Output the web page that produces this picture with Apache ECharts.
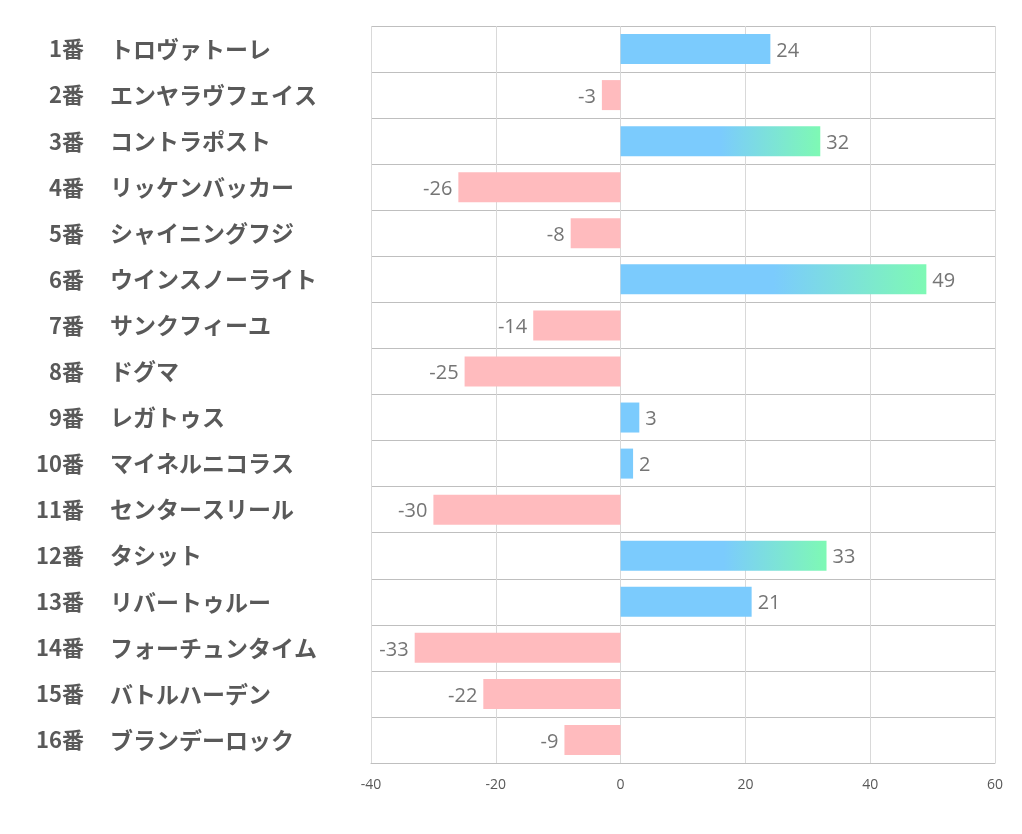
<!DOCTYPE html>
<html><head><meta charset="utf-8">
<script src="https://cdn.jsdelivr.net/npm/echarts@6/dist/echarts.min.js"></script>
<style>html,body{margin:0;padding:0;background:#fff}#c{width:1022px;height:834px}</style>
</head><body><div id="c"></div>
<script>
const numbers = ['1番','2番','3番','4番','5番','6番','7番','8番','9番','10番','11番','12番','13番','14番','15番','16番'];
const names = ['トロヴァトーレ','エンヤラヴフェイス','コントラポスト','リッケンバッカー','シャイニングフジ','ウインスノーライト','サンクフィーユ','ドグマ','レガトゥス','マイネルニコラス','センタースリール','タシット','リバートゥルー','フォーチュンタイム','バトルハーデン','ブランデーロック'];
const values = [24,-3,32,-26,-8,49,-14,-25,3,2,-30,33,21,-33,-22,-9];
const xTicks = [-40,-20,0,20,40,60];

const BLUE = '#7bcbfd', GREEN = '#7ef9b4', PINK = '#ffbbbe';
const data = values.map(v => {
  let color;
  if (v < 0) color = PINK;
  else if (v >= 30) color = new echarts.graphic.LinearGradient(0,0,1,0,[{offset:0,color:BLUE},{offset:0.5,color:BLUE},{offset:1,color:GREEN}]);
  else color = BLUE;
  return {value: v, itemStyle: {color}, label: {position: v < 0 ? 'left' : 'right'}};
});

const FONT = '"Noto Sans CJK JP", sans-serif';
const chart = echarts.init(document.getElementById('c'));
chart.setOption({
  animation: false,
  grid: {left: 371, right: 27, top: 26, bottom: 71, containLabel: false},
  xAxis: {
    type: 'value', min: xTicks[0], max: xTicks[xTicks.length-1], interval: 20,
    axisLine: {show: true, lineStyle: {color: '#bfbfbf', width: 1}},
    axisTick: {show: false},
    splitLine: {show: true, lineStyle: {color: '#d9d9d9', width: 1}},
    axisLabel: {color: '#595959', fontSize: 14, margin: 15, fontFamily: 'Open Sans, sans-serif'}
  },
  yAxis: [{
    type: 'category', data: numbers, inverse: true, position: 'left',
    axisLine: {show: false}, axisTick: {show: false},
    splitLine: {show: true, lineStyle: {color: '#bfbfbf', width: 1}},
    axisLabel: {margin: 287, align: 'right', fontSize: 22, fontWeight: 'bold', color: '#595959', fontFamily: FONT}
  }, {
    type: 'category', data: names, inverse: true, position: 'left', offset: 0,
    axisLine: {show: false}, axisTick: {show: false}, splitLine: {show: false},
    axisLabel: {margin: 261, align: 'left', fontSize: 23, fontWeight: 'bold', color: '#595959', fontFamily: FONT}
  }],
  series: [{
    type: 'bar', data: data, barWidth: 30, yAxisIndex: 0,
    label: {show: true, color: '#757575', fontSize: 20, distance: 6, offset: [0, 2], fontFamily: 'Open Sans, sans-serif'}
  }]
});
</script></body></html>
